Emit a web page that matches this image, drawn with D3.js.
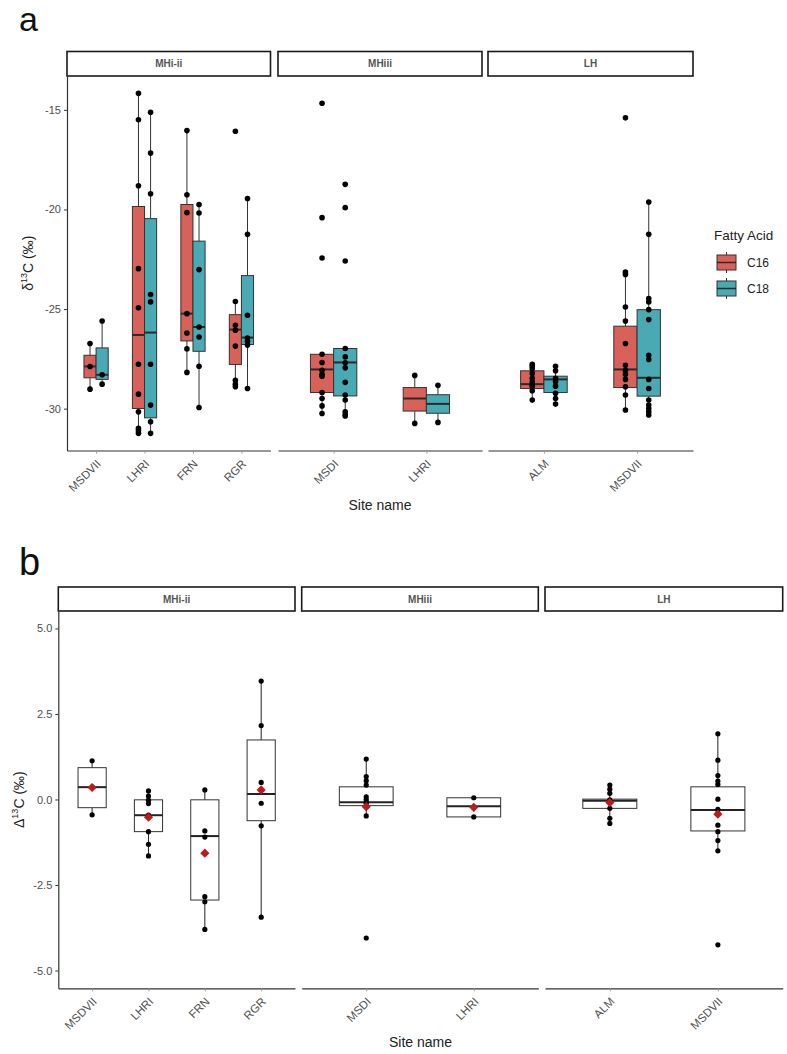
<!DOCTYPE html>
<html>
<head>
<meta charset="utf-8">
<script src="https://cdn.jsdelivr.net/npm/d3@7"></script>
<style>
  body { margin: 0; background: #fff; }
  svg { font-family: "Liberation Sans", Arial, sans-serif; }
</style>
</head>
<body>
<div id="chart"></div>
<script>
// facets and sites
const facets = ['MHi-ii', 'MHiii', 'LH'];
const facetSites = [['MSDVII', 'LHRI', 'FRN', 'RGR'], ['MSDI', 'LHRI'], ['ALM', 'MSDVII']];
const acids = ['C16', 'C18'];

// panel a: d13C points per group (facet/site order above)
const c16Points = [
  [-26.73, -27.88, -29.02],
  [-14.17, -15.5, -18.81, -22.97, -24.94, -27.77, -29.27, -30.16, -30.99, -31.11, -31.24],
  [-16.04, -19.26, -20.16, -25.23, -26.2, -27.0, -28.18],
  [-16.07, -24.62, -25.81, -26.06, -26.86, -28.57, -28.77, -28.9],
  [-14.67, -20.41, -22.44, -27.27, -27.68, -28.07, -28.27, -28.37, -29.19, -29.49, -29.86, -30.24],
  [-28.33, -30.74],
  [-27.77, -27.87, -28.0, -28.23, -28.48, -28.65, -28.77, -28.87, -29.1, -29.57],
  [-15.4, -23.14, -23.26, -24.9, -25.6, -26.73, -27.82, -28.07, -28.27, -28.53, -28.9, -29.32, -30.07]
];
const c18Points = [
  [-25.6, -28.3, -28.77],
  [-15.12, -17.17, -19.21, -24.27, -24.64, -27.77, -29.82, -30.66, -31.24],
  [-19.75, -20.18, -23.02, -25.9, -26.4, -27.87, -29.94],
  [-19.45, -21.25, -25.31, -26.45, -26.61, -26.81, -28.99],
  [-18.74, -19.91, -22.59, -26.98, -27.4, -27.7, -27.95, -28.68, -29.32, -29.57, -30.16, -30.29, -30.37],
  [-28.83, -30.69],
  [-27.87, -28.1, -28.48, -28.65, -28.87, -29.23, -29.49, -29.77],
  [-19.63, -21.25, -24.47, -24.64, -25.03, -25.53, -27.32, -27.53, -28.53, -28.99, -29.57, -29.82, -29.99, -30.16, -30.32]
];
// box stats: [lower whisker, q1, median, q3, upper whisker]
const c16Box = [
  [-29.02, -28.45, -27.88, -27.32, -26.73],
  [-31.24, -29.99, -26.30, -19.85, -14.17],
  [-28.18, -26.6, -25.23, -19.75, -16.04],
  [-28.9, -27.78, -26.03, -25.28, -24.62],
  [-30.24, -29.19, -28.03, -27.27, -27.27],
  [-30.74, -30.12, -29.49, -28.94, -28.33],
  [-29.57, -28.99, -28.77, -28.1, -27.77],
  [-30.07, -28.94, -28.03, -25.86, -23.14]
];
const c18Box = [
  [-28.77, -28.53, -28.3, -26.95, -25.6],
  [-31.24, -30.46, -26.18, -20.46, -15.12],
  [-29.94, -27.12, -25.9, -21.59, -19.75],
  [-28.99, -26.78, -26.43, -23.32, -19.45],
  [-30.37, -29.36, -27.68, -26.98, -26.98],
  [-30.69, -30.23, -29.76, -29.3, -28.83],
  [-29.77, -29.19, -28.53, -28.37, -27.87],
  [-30.32, -29.37, -28.45, -25.03, -19.63]
];
const yTicksA = [-15, -20, -25, -30];

// panel b: D13C
const deltaPoints = [
  [1.13, 0.36, -0.45],
  [0.25, 0.1, -0.02, -0.12, -0.46, -0.94, -1.31, -1.65],
  [0.28, -0.92, -1.1, -2.84, -2.99, -3.8],
  [3.46, 2.16, 0.5, -0.11, -0.77, -3.44],
  [1.18, 0.67, 0.55, 0.42, 0.08, 0.0, -0.08, -0.11, -0.48, -4.05],
  [0.05, -0.51],
  [0.42, 0.3, 0.18, -0.01, -0.26, -0.55, -0.7],
  [1.92, 1.15, 0.7, 0.54, 0.44, 0.01, -0.29, -0.4, -0.75, -0.94, -1.2, -1.5, -4.25]
];
const deltaBox = [
  [-0.45, -0.24, 0.36, 0.93, 1.13],
  [-1.65, -0.94, -0.46, -0.01, 0.25],
  [-3.8, -2.94, -1.07, -0.01, 0.28],
  [-3.44, -0.62, 0.16, 1.74, 3.46],
  [-0.48, -0.18, -0.08, 0.37, 1.18],
  [-0.51, -0.51, -0.2, 0.05, 0.05],
  [-0.71, -0.26, -0.04, 0.01, 0.42],
  [-1.5, -0.92, -0.31, 0.37, 1.92]
];
const deltaMean = [0.35, -0.52, -1.57, 0.28, -0.21, -0.23, -0.09, -0.43];
const yTicksB = [5.0, 2.5, 0.0, -2.5, -5.0];

const colors = { C16: '#d8625a', C18: '#4aaab3' };
const axisGrey = '#4d4d4d';

const width = 787;
const height = 1054;

const svg = d3.select('#chart')
  .append('svg')
  .attr('width', width)
  .attr('height', height);

// flatten groups: facet index, site, group index
function groupsOf() {
  let out = [];
  facetSites.forEach((sites, fi) => {
    sites.forEach((s) => out.push({ facet: fi, site: s, idx: out.length }));
  });
  return out;
}
const groups = groupsOf();

function drawFrame(g, cfg, yScale, yTicks, yFormat) {
  const xScales = cfg.facetX.map((r, fi) =>
    d3.scalePoint().domain(facetSites[fi]).range(r).padding(0.6));

  // strips
  cfg.facetX.forEach((r, fi) => {
    g.append('rect')
      .attr('x', r[0]).attr('y', cfg.stripTop)
      .attr('width', r[1] - r[0]).attr('height', cfg.top - cfg.stripTop)
      .attr('fill', '#fff').attr('stroke', '#1a1a1a').attr('stroke-width', 1.6);
    g.append('text')
      .attr('x', (r[0] + r[1]) / 2).attr('y', (cfg.stripTop + cfg.top) / 2)
      .attr('dy', '0.35em').attr('text-anchor', 'middle')
      .attr('font-size', 10).attr('font-weight', 600).attr('fill', '#555')
      .text(facets[fi]);

    // bottom axis for each facet
    const ax = g.append('g')
      .attr('transform', `translate(0,${cfg.bottom})`)
      .call(d3.axisBottom(xScales[fi]).tickSize(3).tickSizeOuter(0));
    ax.select('.domain').attr('stroke', '#333').attr('stroke-width', 1.2);
    ax.selectAll('.tick line').attr('stroke', '#999');
    ax.selectAll('.tick text')
      .attr('font-size', 11.5).attr('fill', axisGrey)
      .attr('text-anchor', 'end')
      .attr('y', 0).attr('dy', 0)
      .attr('transform', 'translate(5,14) rotate(-45)');
  });

  // left axis
  const ay = g.append('g')
    .attr('transform', `translate(${cfg.facetX[0][0]},0)`)
    .call(d3.axisLeft(yScale).tickValues(yTicks).tickFormat(yFormat).tickSize(3).tickSizeOuter(0));
  ay.select('.domain').attr('stroke', '#333').attr('stroke-width', 1.2);
  ay.selectAll('.tick line').attr('stroke', '#333');
  ay.selectAll('.tick text').attr('font-size', 11).attr('fill', axisGrey);

  // axis titles
  g.append('text')
    .attr('x', (cfg.facetX[0][0] + cfg.facetX[2][1]) / 2)
    .attr('y', cfg.xTitleY)
    .attr('text-anchor', 'middle').attr('font-size', 14).attr('fill', '#222')
    .text('Site name');

  const yt = g.append('text')
    .attr('transform', `translate(${cfg.yTitleX},${(cfg.top + cfg.bottom) / 2}) rotate(-90)`)
    .attr('text-anchor', 'middle').attr('font-size', 14).attr('fill', '#222');
  yt.append('tspan').text(cfg.yPrefix);
  yt.append('tspan').attr('font-size', 9).attr('dy', -6).text('13');
  yt.append('tspan').attr('dy', 6).text('C (\u2030)');

  g.append('text')
    .attr('x', 19).attr('y', cfg.letterY)
    .attr('font-size', cfg.letterSize).attr('fill', '#111')
    .text(cfg.letter);

  return xScales;
}

// ---------- panel a ----------
const cfgA = {
  facetX: [[67, 270.5], [278, 482], [488, 693]],
  stripTop: 51.5, top: 76, bottom: 450.5,
  xTitleY: 510, yTitleX: 33, yPrefix: '\u03b4', letter: 'a', letterY: 31, letterSize: 34
};
const yA = d3.scaleLinear().domain([-32.1, -13.3]).range([cfgA.bottom, cfgA.top]);
const gA = svg.append('g');
const xA = drawFrame(gA, cfgA, yA, yTicksA, (d) => String(d));

const boxW = 0.25;
const seriesA = [
  { acid: 'C16', points: c16Points, box: c16Box, off: -0.125 },
  { acid: 'C18', points: c18Points, box: c18Box, off: 0.125 }
];

seriesA.forEach((s) => {
  groups.forEach((gr) => {
    const xs = xA[gr.facet];
    const step = xs.step();
    const cx = xs(gr.site) + s.off * step;
    const b = s.box[gr.idx];
    const w = boxW * step;
    const bg = gA.append('g');
    bg.append('line')
      .attr('x1', cx).attr('x2', cx).attr('y1', yA(b[0])).attr('y2', yA(b[1]))
      .attr('stroke', '#333').attr('stroke-width', 1);
    bg.append('line')
      .attr('x1', cx).attr('x2', cx).attr('y1', yA(b[3])).attr('y2', yA(b[4]))
      .attr('stroke', '#333').attr('stroke-width', 1);
    bg.append('rect')
      .attr('x', cx - w / 2).attr('width', w)
      .attr('y', yA(b[3])).attr('height', yA(b[1]) - yA(b[3]))
      .attr('fill', colors[s.acid]).attr('stroke', '#333').attr('stroke-width', 1);
    bg.append('line')
      .attr('x1', cx - w / 2).attr('x2', cx + w / 2).attr('y1', yA(b[2])).attr('y2', yA(b[2]))
      .attr('stroke', '#2a2a2a').attr('stroke-width', 2);
  });
});

seriesA.forEach((s) => {
  groups.forEach((gr) => {
    const xs = xA[gr.facet];
    const cx = xs(gr.site) + s.off * xs.step();
    gA.append('g').selectAll('circle')
      .data(s.points[gr.idx])
      .join('circle')
      .attr('cx', cx).attr('cy', (d) => yA(d)).attr('r', 2.8)
      .attr('fill', '#000');
  });
});

// legend
const leg = gA.append('g').attr('transform', 'translate(714,0)');
leg.append('text').attr('x', 0).attr('y', 240).attr('font-size', 13.5).attr('fill', '#222').text('Fatty Acid');
acids.forEach((a, i) => {
  const cy = 262.5 + i * 26;
  leg.append('line').attr('x1', 12.5).attr('x2', 12.5).attr('y1', cy - 10.5).attr('y2', cy + 10.5)
    .attr('stroke', '#333');
  leg.append('rect').attr('x', 3).attr('y', cy - 7.5).attr('width', 19).attr('height', 15)
    .attr('fill', colors[a]).attr('stroke', '#333');
  leg.append('line').attr('x1', 3).attr('x2', 22).attr('y1', cy).attr('y2', cy)
    .attr('stroke', '#2a2a2a').attr('stroke-width', 1.5);
  leg.append('text').attr('x', 33).attr('y', cy).attr('dy', '0.35em')
    .attr('font-size', 12).attr('fill', '#222').text(a);
});

// ---------- panel b ----------
const cfgB = {
  facetX: [[58.3, 295], [301.7, 538.3], [545, 782.7]],
  stripTop: 587, top: 611, bottom: 988.3,
  xTitleY: 1047, yTitleX: 24, yPrefix: '\u0394', letter: 'b', letterY: 575, letterSize: 38
};
const yB = d3.scaleLinear().domain([-5.52, 5.51]).range([cfgB.bottom, cfgB.top]);
const gB = svg.append('g');
const xB = drawFrame(gB, cfgB, yB, yTicksB, (d) => d.toFixed(1));

groups.forEach((gr) => {
  const xs = xB[gr.facet];
  const cx = xs(gr.site);
  const w = 0.5 * xs.step();
  const b = deltaBox[gr.idx];
  gB.append('line')
    .attr('x1', cx).attr('x2', cx).attr('y1', yB(b[0])).attr('y2', yB(b[1]))
    .attr('stroke', '#222').attr('stroke-width', 1);
  gB.append('line')
    .attr('x1', cx).attr('x2', cx).attr('y1', yB(b[3])).attr('y2', yB(b[4]))
    .attr('stroke', '#222').attr('stroke-width', 1);
  gB.append('rect')
    .attr('x', cx - w / 2).attr('width', w)
    .attr('y', yB(b[3])).attr('height', Math.max(1, yB(b[1]) - yB(b[3])))
    .attr('fill', '#fff').attr('stroke', '#333').attr('stroke-width', 1);
  gB.append('line')
    .attr('x1', cx - w / 2).attr('x2', cx + w / 2).attr('y1', yB(b[2])).attr('y2', yB(b[2]))
    .attr('stroke', '#222').attr('stroke-width', 2);
});

groups.forEach((gr) => {
  const cx = xB[gr.facet](gr.site);
  gB.append('g').selectAll('circle')
    .data(deltaPoints[gr.idx])
    .join('circle')
    .attr('cx', cx).attr('cy', (d) => yB(d)).attr('r', 2.6)
    .attr('fill', '#000');
});

gB.append('g').selectAll('path')
  .data(groups)
  .join('path')
  .attr('d', d3.symbol(d3.symbolSquare, 42)())
  .attr('transform', (d) => `translate(${xB[d.facet](d.site)},${yB(deltaMean[d.idx])}) rotate(45)`)
  .attr('fill', '#c0191c');
</script>
</body>
</html>
